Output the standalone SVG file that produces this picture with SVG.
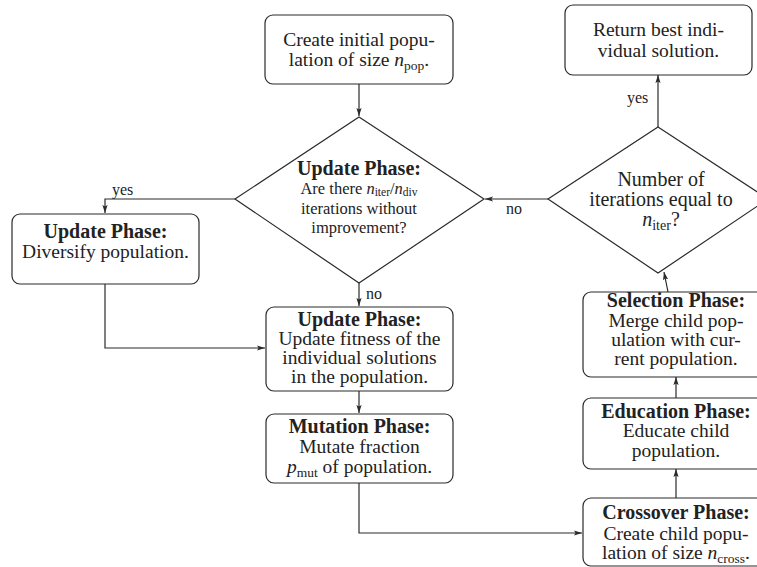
<svg xmlns="http://www.w3.org/2000/svg" width="757" height="567" viewBox="0 0 757 567">
<defs>
<marker id="ah" viewBox="0 0 8 6" refX="8" refY="3" markerWidth="8" markerHeight="6" markerUnits="userSpaceOnUse" orient="auto">
<path d="M0,0.4 L8,3 L0,5.6 L1.6,3 z" fill="#2a2a2a"/>
</marker>
</defs>
<style>
.box{fill:#fff;stroke:#2a2a2a;stroke-width:1.2}
.dia{fill:#fff;stroke:#2a2a2a;stroke-width:1.2}
.con{fill:none;stroke:#2a2a2a;stroke-width:1.2;marker-end:url(#ah)}
text{font-family:"Liberation Serif","Times New Roman",serif;fill:#222;text-anchor:middle;font-size:19.5px}
.b{font-weight:bold;font-size:20px}
.sm{font-size:16.5px}
.lg{font-size:20px}
.lbl{font-size:16px;text-anchor:start}
.i{font-style:italic}
</style>
<rect width="757" height="567" fill="#fff"/>
<g id="connectors">
<path class="con" d="M359,84 L359,116"/>
<path class="con" d="M359,283 L359,306"/>
<path class="con" d="M235,199 L105,199 L105,213"/>
<path class="con" d="M105,284 L105,348 L265,348"/>
<path class="con" d="M359,391 L359,413"/>
<path class="con" d="M359,483 L359,533 L582,533"/>
<path class="con" d="M676,498 L676,469"/>
<path class="con" d="M676,398 L676,377"/>
<path class="con" d="M668,292 L664,272"/>
<path class="con" d="M658,127 L658,75"/>
<path class="con" d="M548,199 L485,199"/>
<text class="lbl" x="366" y="299">no</text>
<text class="lbl" x="112" y="195">yes</text>
<text class="lbl" x="506" y="214">no</text>
<text class="lbl" x="627" y="103">yes</text>
</g>
<g id="init">
<rect class="box" x="265" y="15" width="188" height="69" rx="8"/>
<text x="359" y="46">Create initial popu-</text>
<text x="359" y="66">lation of size <tspan class="i">n</tspan><tspan font-size="13.5" dy="4">pop</tspan><tspan dy="-4">.</tspan></text>
</g>
<g id="decision-update">
<polygon class="dia" points="359,117 484,199 359,283 235,199"/>
<text class="b" x="359" y="175">Update Phase:</text>
<text class="sm" x="359" y="193.5">Are there <tspan class="i">n</tspan><tspan font-size="11.5" dy="2.5">iter</tspan><tspan dy="-2.5">/</tspan><tspan class="i">n</tspan><tspan font-size="11.5" dy="2.5">div</tspan></text>
<text class="sm" x="359" y="214">iterations without</text>
<text class="sm" x="359" y="232.5">improvement?</text>
</g>
<g id="diversify">
<rect class="box" x="12" y="214" width="187" height="70" rx="8"/>
<text class="b" x="105.5" y="238">Update Phase:</text>
<text x="105.5" y="258">Diversify population.</text>
</g>
<g id="update-fitness">
<rect class="box" x="266" y="307" width="187" height="84" rx="8"/>
<text class="b" x="359.5" y="326">Update Phase:</text>
<text x="359.5" y="345">Update fitness of the</text>
<text x="359.5" y="364">individual solutions</text>
<text x="359.5" y="383">in the population.</text>
</g>
<g id="mutation">
<rect class="box" x="266" y="414" width="187" height="69" rx="8"/>
<text class="b" x="359.5" y="433">Mutation Phase:</text>
<text x="359.5" y="453">Mutate fraction</text>
<text x="359.5" y="473"><tspan class="i">p</tspan><tspan font-size="13.5" dy="4">mut</tspan><tspan dy="-4"> of population.</tspan></text>
</g>
<g id="crossover">
<rect class="box" x="583" y="498" width="187" height="68" rx="8"/>
<text class="b" x="676" y="519">Crossover Phase:</text>
<text x="676" y="540">Create child popu-</text>
<text x="676" y="559">lation of size <tspan class="i">n</tspan><tspan font-size="13.5" dy="4">cross</tspan><tspan dy="-4">.</tspan></text>
</g>
<g id="education">
<rect class="box" x="583" y="398" width="187" height="71" rx="8"/>
<text class="b" x="676" y="418">Education Phase:</text>
<text x="676" y="437">Educate child</text>
<text x="676" y="457">population.</text>
</g>
<g id="selection">
<rect class="box" x="583" y="292" width="187" height="85" rx="8"/>
<text class="b" x="676" y="307">Selection Phase:</text>
<text x="676" y="327">Merge child pop-</text>
<text x="676" y="346">ulation with cur-</text>
<text x="676" y="365">rent population.</text>
</g>
<g id="decision-iter">
<polygon class="dia" points="658,127 768,199 658,273 548,199"/>
<text class="lg" x="661" y="186">Number of</text>
<text class="lg" x="661" y="206">iterations equal to</text>
<text class="lg" x="661" y="226"><tspan class="i">n</tspan><tspan font-size="14" dy="4">iter</tspan><tspan dy="-4">?</tspan></text>
</g>
<g id="return">
<rect class="box" x="565" y="5" width="187" height="70" rx="8"/>
<text x="658.5" y="36">Return best indi-</text>
<text x="658.5" y="57">vidual solution.</text>
</g>
</svg>
